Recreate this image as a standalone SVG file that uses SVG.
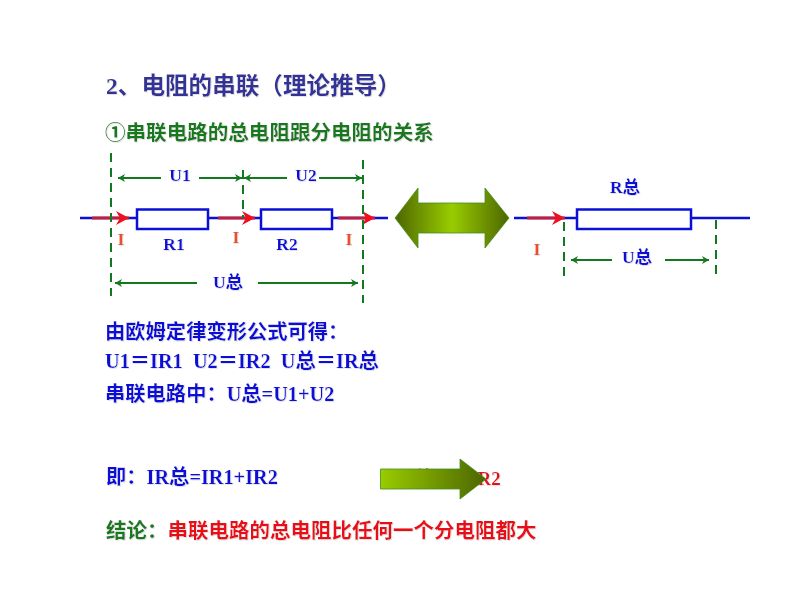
<svg xmlns="http://www.w3.org/2000/svg" width="800" height="600" viewBox="0 0 800 600">
<style>
text{font-family:"Liberation Serif","Noto Sans CJK SC",serif;font-weight:700;white-space:pre;filter:url(#sh)}
.b{fill:#0a10d8;font-size:20.300px}
.s{fill:#0a10d8;font-size:17.500px;text-anchor:middle}
.i{fill:#e8502a;font-size:17.500px;text-anchor:middle}
.g{fill:#127a1e}
.r{fill:#e81018}
.w{stroke:#0a10d8;stroke-width:2.500;fill:none}
.res{stroke:#0a10d8;stroke-width:2.500;fill:#fff}
.cur{stroke:#c0203c;stroke-width:3;fill:none;marker-end:url(#red)}
.d{stroke:#127a1e;stroke-width:2;stroke-dasharray:9 6;fill:none}
.dim{stroke:#127a1e;stroke-width:2;fill:none;marker-end:url(#grn)}
</style>
<defs>
<filter id="sh" x="-5%" y="-20%" width="110%" height="140%"><feDropShadow dx="0.800" dy="0.800" stdDeviation="0.400" flood-color="#dcdcdc"/></filter>
<marker id="red" markerUnits="userSpaceOnUse" markerWidth="15" markerHeight="14" refX="13" refY="7" orient="auto"><path d="M0 0L13 7L0 14L4 7Z" fill="#ee1020"/></marker>
<marker id="grn" markerUnits="userSpaceOnUse" markerWidth="9" markerHeight="10" refX="7" refY="5" orient="auto"><path d="M0 1L7 5L0 9L2 5Z" fill="#127a1e"/></marker>
<linearGradient id="dbl" x1="0" x2="1" y1="0" y2="0"><stop offset="0" stop-color="#4d6600"/><stop offset=".5" stop-color="#99cc00"/><stop offset="1" stop-color="#4d6600"/></linearGradient>
<linearGradient id="one" x1="0" x2="1" y1="0" y2="0"><stop offset="0" stop-color="#99cc00"/><stop offset="1" stop-color="#4d6600"/></linearGradient>
</defs>
<rect width="800" height="600" fill="#fff"/>

<g id="headings">
<text x="106" y="94" font-size="23.600" fill="#333399">2、电阻的串联（理论推导）</text>
<text x="105" y="140" font-size="20.550" class="g">①串联电路的总电阻跟分电阻的关系</text>
</g>

<g id="left-circuit">
<line class="w" x1="80" y1="218" x2="137" y2="218"/>
<line class="w" x1="208" y1="218" x2="261" y2="218"/>
<line class="w" x1="332" y1="218" x2="388" y2="218"/>
<g id="R1"><rect class="res" x="137" y="209.500" width="71" height="19.500"/><text class="s" x="174" y="250">R1</text></g>
<g id="R2"><rect class="res" x="261" y="209.500" width="71" height="19.500"/><text class="s" x="287" y="250">R2</text></g>
<text class="i" x="121" y="245">I</text>
<text class="i" x="236" y="243">I</text>
<text class="i" x="349" y="245">I</text>
<text class="s" x="180" y="181">U1</text>
<text class="s" x="306" y="181">U2</text>
<text class="s" x="228" y="288">U总</text>
</g>

<g id="right-circuit">
<line class="w" x1="514" y1="218" x2="577" y2="218"/>
<line class="w" x1="691" y1="218" x2="750" y2="218"/>
<g id="R-total"><rect class="res" x="577" y="209.500" width="114" height="19.500"/><text class="s" x="625" y="193">R总</text></g>
<text class="i" x="537" y="255">I</text>
<text class="s" x="637" y="263">U总</text>
</g>

<g id="connectors">
<line class="cur" x1="92" y1="218" x2="129" y2="218"/>
<line class="cur" x1="218" y1="218" x2="255" y2="218"/>
<line class="cur" x1="338" y1="218" x2="375" y2="218"/>
<line class="cur" x1="527" y1="218" x2="565" y2="218"/>
<line class="d" x1="111" y1="153" x2="111" y2="296"/>
<line class="d" x1="243" y1="170" x2="243" y2="218"/>
<line class="d" x1="363" y1="160" x2="363" y2="303"/>
<line class="d" x1="564" y1="222" x2="564" y2="279"/>
<line class="d" x1="716" y1="220" x2="716" y2="277"/>
<line class="dim" x1="161" y1="178" x2="118" y2="178"/>
<line class="dim" x1="199" y1="178" x2="242" y2="178"/>
<line class="dim" x1="287" y1="178" x2="244" y2="178"/>
<line class="dim" x1="319" y1="178" x2="362" y2="178"/>
<line class="dim" x1="197" y1="283" x2="115" y2="283"/>
<line class="dim" x1="258" y1="283" x2="358" y2="283"/>
<line class="dim" x1="612" y1="260" x2="571" y2="260"/>
<line class="dim" x1="665" y1="260" x2="709" y2="260"/>
</g>

<g id="double-arrow">
<path d="M395 218L418 188V203H485V188L509 218L485 248V233H418V248Z" fill="url(#dbl)" stroke="#3f8f1e" stroke-width="0.800"/>
</g>

<g id="equations">
<text class="b" x="105" y="339">由欧姆定律变形公式可得：</text>
<text class="b" x="105" y="368">U1＝IR1  U2＝IR2  U总＝IR总</text>
<text class="b" x="105" y="401">串联电路中：U总=U1+U2</text>
<text class="b" x="106" y="484">即：IR总=IR1+IR2</text>
<text class="r" x="400" y="485" font-size="19">R总=R1+R2</text>
<text x="106" y="538" font-size="20.500" class="g">结论：<tspan class="r">串联电路的总电阻比任何一个分电阻都大</tspan></text>
</g>

<g id="result-arrow">
<path d="M380.500 469H460V459L486 479L460 499V489H380.500Z" fill="url(#one)" stroke="#3f8f1e" stroke-width="0.800"/>
</g>
</svg>
